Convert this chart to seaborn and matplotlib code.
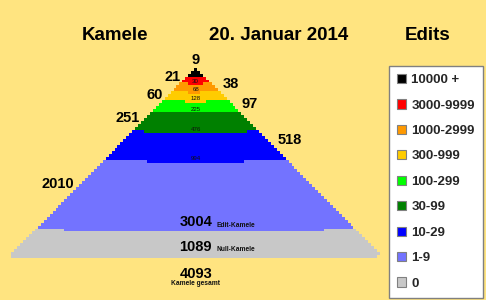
import numpy as np
import pandas as pd
import matplotlib
matplotlib.use("Agg")
import matplotlib.pyplot as plt
from matplotlib.colors import ListedColormap
from matplotlib.patches import Patch
import seaborn as sns

# ---------------- data ----------------
bands = ["10000 +", "3000-9999", "1000-2999", "300-999", "100-299",
         "30-99", "10-29", "1-9", "0"]
counts = [9, 21, 38, 60, 97, 251, 518, 2010, 1089]
band_colors = ["#000000", "#FF0000", "#FF9900", "#FFCC00", "#00FF00",
               "#008000", "#0000FF", "#7373FF", "#C8C8C8"]
title_left = "Kamele"
title_mid = "20. Januar 2014"
title_right = "Edits"
label_edit = "Edit-Kamele"
label_null = "Null-Kamele"
label_total = "Kamele gesamt"

BG = "#FFE480"

sns.set_theme(style="white")
plt.rcParams["font.family"] = ["Liberation Sans", "DejaVu Sans"]

# ---------------- build pyramid grid (one cell per camel) ----------------
cum = np.cumsum(counts)
total = int(cum[-1])
n_rows = int(np.ceil(np.sqrt(total)))
n_cols = 2 * n_rows - 1
mid = n_rows - 1
grid = np.full((n_rows, n_cols), np.nan)
k = 0
for r in range(n_rows):
    for j in range(2 * r + 1):
        if k >= total:
            break
        off = (j + 1) // 2 * (-1 if j % 2 == 1 else 1)
        grid[r, mid + off] = np.searchsorted(cum, k, side="right")
        k += 1
df = pd.DataFrame(grid)

fig = plt.figure(figsize=(4.86, 3.0), dpi=100, facecolor=BG)
W, H = 486.0, 300.0
left_px, right_px, top_px, bot_px = 8.3, 383.0, 67.6, 258.3
ax = fig.add_axes([left_px / W, 1 - bot_px / H, (right_px - left_px) / W, (bot_px - top_px) / H])
ax.set_facecolor(BG)
sns.heatmap(df, cmap=ListedColormap(band_colors), vmin=-0.5, vmax=len(counts) - 0.5,
            cbar=False, xticklabels=False, yticklabels=False, ax=ax)
ax.set_xlim(0, n_cols)
ax.set_ylim(n_rows, 0)

cx = n_cols / 2.0
big = dict(fontsize=10.5, fontweight="bold", color="#000000")
small = dict(fontsize=4.8, fontweight="bold", color="#111111")
inner = dict(fontsize=4.4, color="#111111")

# count labels around the pyramid
label_rows = [-2.55, 3.15, 5.5, 9.2, 12.2, 16.9, 24.3, 39.1]
gap = 3.0
for i, (cnt, ry) in enumerate(zip(counts[:-1], label_rows)):
    if i == 0:
        ax.text(cx, ry, str(cnt), ha="center", va="center", **big)
    elif i % 2 == 1:
        ax.text(cx - (ry + 0.5) - gap + 1.5, ry, str(cnt), ha="right", va="center", **big)
    else:
        ax.text(cx + (ry + 0.5) + gap, ry, str(cnt), ha="left", va="center", **big)

# cumulative labels inside bands
for c in cum[1:7]:
    ax.text(cx, np.sqrt(c) - 0.9, str(int(c)), ha="center", va="center", **inner)

edit_total = int(cum[-2])
ax.text(cx, 51.8, str(edit_total), ha="center", va="center", **big)
ax.text(cx + 7.2, 53.0, label_edit, ha="left", va="center", **small)
ax.text(cx, 60.2, str(counts[-1]), ha="center", va="center", **big)
ax.text(cx + 6.9, 60.9, label_null, ha="left", va="center", **small)
ax.text(cx, 69.3, str(total), ha="center", va="center", **big)
ax.text(cx, 72.4, label_total, ha="center", va="center", **small)

# titles
tkw = dict(fontsize=13.5, fontweight="bold", color="#000000", ha="center", va="center")
fig.text(114.5 / W, 1 - 35 / H, title_left, **tkw)
fig.text(278.5 / W, 1 - 35 / H, title_mid, **tkw)
fig.text(427.5 / W, 1 - 35 / H, title_right, **tkw)

# legend
handles = [Patch(facecolor=c, edgecolor="#808080", linewidth=0.8, label=b)
           for b, c in zip(bands, band_colors)]
leg = fig.legend(handles=handles, loc="upper left",
                 bbox_to_anchor=(389 / W, 1 - 66 / H), bbox_transform=fig.transFigure,
                 frameon=True, fancybox=False, edgecolor="#808080", facecolor="white",
                 framealpha=1, prop={"weight": "bold", "size": 9.5},
                 handlelength=0.7, handleheight=0.7, handletextpad=0.38,
                 labelspacing=1.0, borderpad=0.6, borderaxespad=0)
leg.get_frame().set_linewidth(1.0)

fig.savefig("out.png", dpi=100, facecolor=BG)
